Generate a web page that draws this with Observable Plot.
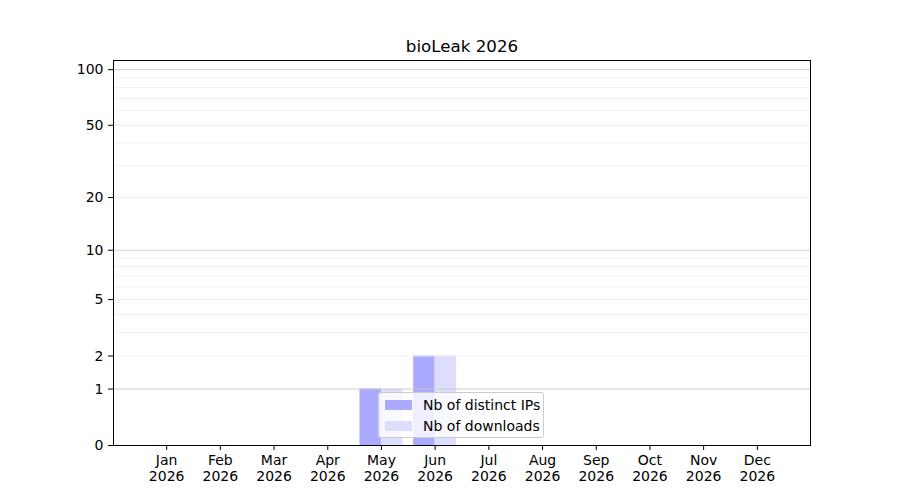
<!DOCTYPE html>
<html><head><meta charset="utf-8">
<script src="https://cdn.jsdelivr.net/npm/d3@7"></script>
<script src="https://cdn.jsdelivr.net/npm/@observablehq/plot@0.6"></script>
<style>
body{margin:0;background:#fff;}
#wrap{position:relative;width:900px;height:500px;}
.legend{position:absolute;left:378px;top:392px;width:164px;height:44px;background:rgba(255,255,255,0.8);border:1px solid #cccccc;border-radius:3px;font-family:"DejaVu Sans";font-size:14px;color:#000;}
.row{position:absolute;left:0;height:16px;line-height:16px;white-space:nowrap;}
.sw{position:absolute;left:6px;top:3px;width:27px;height:10px;}
.lb{position:absolute;left:44px;top:0;}
</style>
</head><body>
<div id="wrap"></div>
<script>
const title = "bioLeak 2026";
const months = ["Jan","Feb","Mar","Apr","May","Jun","Jul","Aug","Sep","Oct","Nov","Dec"];
const year = "2026";
const ips = [0,0,0,0,1,2,0,0,0,0,0,0];
const downloads = [0,0,0,0,1,2,0,0,0,0,0,0];
const yTicks = [0,1,2,5,10,20,50,100];
const majorGrid = [1,10,100];
const minorGrid = [2,3,4,5,6,7,8,9,20,30,40,50,60,70,80,90];
const seriesNames = ["Nb of distinct IPs","Nb of downloads"];
const seriesColors = ["#aaaaff","#ddddfe"];

const data = months.map((m,i)=>({i, month:m, ips:ips[i], downloads:downloads[i]}));

const chart = Plot.plot({
  width: 900, height: 500,
  marginLeft: 113, marginRight: 90, marginTop: 60, marginBottom: 55,
  style: {fontFamily: "DejaVu Sans", fontSize: "14px", background: "#fff", color: "#000"},
  x: {type: "linear", domain: [-0.99, 11.99]},
  y: {type: "symlog", constant: 1, domain: [0, 112]},
  marks: [
    Plot.rectY(data, {x1: d => d.i - 0.4, x2: d => d.i, y: "ips", fill: seriesColors[0]}),
    Plot.rectY(data, {x1: d => d.i, x2: d => d.i + 0.4, y: "downloads", fill: seriesColors[1]}),
    Plot.ruleY(minorGrid, {stroke: "#ebebeb", strokeWidth: 0.8}),
    Plot.ruleY(majorGrid, {stroke: "#c8c8c8", strokeWidth: 0.9}),
    Plot.axisX(d3.range(months.length), {tickFormat: i => months[i] + "\n" + year, tickSize: 5, tickPadding: 4, lineHeight: 1.1, fontSize: 14, label: null}),
    Plot.axisY(yTicks, {tickFormat: d => String(d), tickSize: 5, tickPadding: 5, fontSize: 14, label: null}),
    Plot.frame({stroke: "#000", strokeWidth: 1}),
    Plot.text([title], {frameAnchor: "top", dy: -14, fontSize: 16.7, lineAnchor: "middle", fill: "#000"})
  ]
});
const wrap = document.getElementById("wrap");
wrap.appendChild(chart);

const leg = document.createElement("div");
leg.className = "legend";
seriesNames.forEach((name, k) => {
  const row = document.createElement("div");
  row.className = "row";
  row.style.top = (4 + k * 21) + "px";
  const sw = document.createElement("div");
  sw.className = "sw";
  sw.style.background = seriesColors[k];
  const lb = document.createElement("div");
  lb.className = "lb";
  lb.textContent = name;
  row.appendChild(sw); row.appendChild(lb);
  leg.appendChild(row);
});
wrap.appendChild(leg);
</script>
</body></html>
